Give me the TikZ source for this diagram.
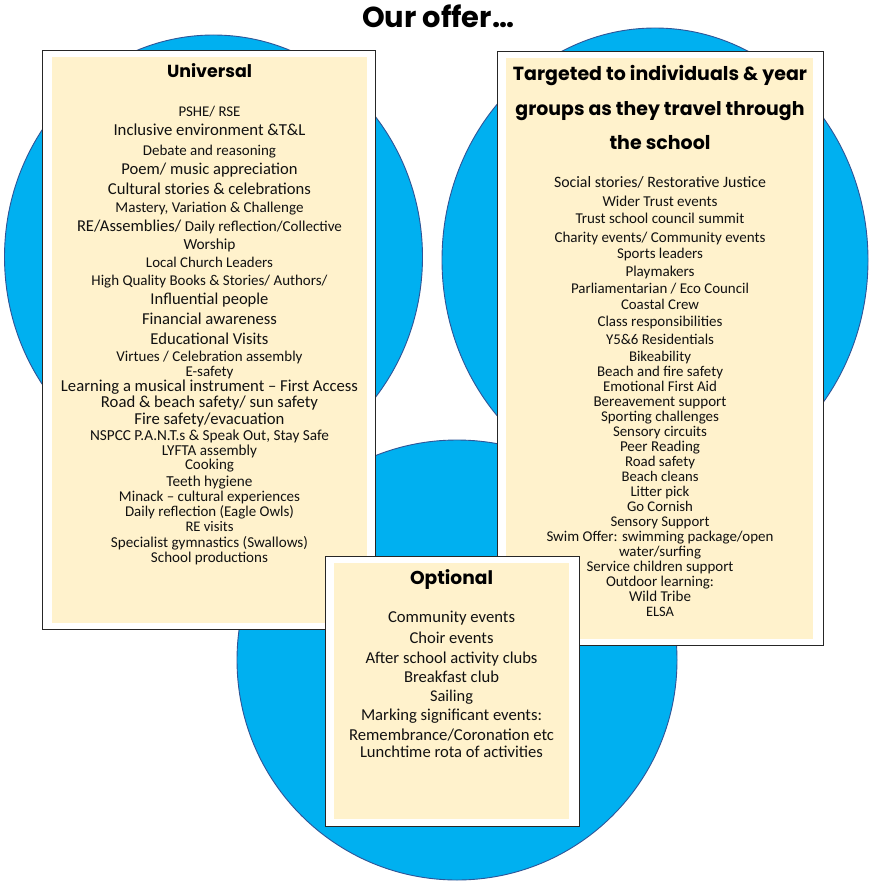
\documentclass[tikz,border=0pt]{standalone}
\usepackage{fontspec}
\usepackage{graphicx}
\setmainfont{Carlito}
\newfontfamily\headfont{Poppins}
\definecolor{circfill}{HTML}{00B0F0}
\definecolor{circline}{HTML}{2F5597}
\definecolor{cream}{HTML}{FFF2CC}
\definecolor{ink}{HTML}{111111}
\newcommand{\fitw}[2]{\resizebox{#1pt}{!}{#2}}
\tikzset{
  bubble/.style={fill=circfill, draw=circline, line width=0.9pt},
  outerbox/.style={fill=white, draw=black!85, line width=0.9pt},
  innerbox/.style={fill=cream, draw=none},
  txt/.style={anchor=base, inner sep=0pt, text=ink},
  head/.style={anchor=base, inner sep=0pt, text=black, font=\headfont\bfseries},
}
\begin{document}
\begin{tikzpicture}[x=1pt,y=-1pt]
\useasboundingbox (0,0) rectangle (876,891);
\fill[white] (0,0) rectangle (876,891);
% circles
\draw[bubble] (213.5,257) ellipse [x radius=209, y radius=222];
\draw[bubble] (655,260) ellipse [x radius=213, y radius=232];
\draw[bubble] (457,660) ellipse [x radius=220, y radius=220];
% title
\node[head] (title) at (438,28) {\fitw{152}{Our offer\ldots}};
% universal box
\draw[outerbox] (42.5,50) rectangle (375,629);
\fill[innerbox] (52,57) rectangle (367,623);
\node[head] (u0) at (209.5,77) {\fitw{85}{Universal}};
\node[txt] (u1) at (209.5,116.5) {\fitw{62}{PSHE/ RSE}};
\node[txt] (u2) at (209.5,135.5) {\fitw{192}{Inclusive environment \&T\&L}};
\node[txt] (u3) at (209.5,155.5) {\fitw{133}{Debate and reasoning}};
\node[txt] (u4) at (209.5,174.5) {\fitw{176}{Poem/ music appreciation}};
\node[txt] (u5) at (209.5,194.5) {\fitw{203}{Cultural stories \& celebrations}};
\node[txt] (u6) at (209.5,212.5) {\fitw{188}{Mastery, Variation \& Challenge}};
\node[txt] (u7) at (209.5,231.5) {\fitw{265}{\scalebox{1.1}{RE/Assemblies/} Daily reflection/Collective}};
\node[txt] (u8) at (209.5,249.5) {\fitw{52}{Worship}};
\node[txt] (u9) at (209.5,267.5) {\fitw{127}{Local Church Leaders}};
\node[txt] (u10) at (209.5,285.5) {\fitw{236}{High Quality Books \& Stories/ Authors/}};
\node[txt] (u11) at (209.5,304.5) {\fitw{118}{Influential people}};
\node[txt] (u12) at (209.5,324.5) {\fitw{135}{Financial awareness}};
\node[txt] (u13) at (209.5,344.5) {\fitw{118}{Educational Visits}};
\node[txt] (u14) at (209.5,361.5) {\fitw{186}{Virtues / Celebration assembly}};
\node[txt] (u15) at (209.5,376.5) {\fitw{48}{E-safety}};
\node[txt] (u16) at (209.5,391.5) {\fitw{297}{Learning a musical instrument – First Access}};
\node[txt] (u17) at (209.5,407.5) {\fitw{217}{Road \& beach safety/ sun safety}};
\node[txt] (u18) at (209.5,424.5) {\fitw{150}{Fire safety/evacuation}};
\node[txt] (u19) at (209.5,440.5) {\fitw{239}{NSPCC P.A.N.T.s \& Speak Out, Stay Safe}};
\node[txt] (u20) at (209.5,455.5) {\fitw{95}{LYFTA assembly}};
\node[txt] (u21) at (209.5,469.5) {\fitw{49}{Cooking}};
\node[txt] (u22) at (209.5,486.5) {\fitw{86}{Teeth hygiene}};
\node[txt] (u23) at (209.5,501.5) {\fitw{181}{Minack – cultural experiences}};
\node[txt] (u24) at (209.5,516.5) {\fitw{169}{Daily reflection (Eagle Owls)}};
\node[txt] (u25) at (209.5,531.5) {\fitw{48}{RE visits}};
\node[txt] (u26) at (209.5,547.5) {\fitw{197}{Specialist gymnastics (Swallows)}};
\node[txt] (u27) at (209.5,562.5) {\fitw{117}{School productions}};
% targeted box
\draw[outerbox] (497,51) rectangle (823,645);
\fill[innerbox] (506,58) rectangle (813,639);
\node[head] (t0a) at (660,80) {\fitw{294}{Targeted to individuals \& year}};
\node[head] (t0b) at (660,115) {\fitw{289}{groups as they travel through}};
\node[head] (t0c) at (660,149) {\fitw{101}{the school}};
\node[txt] (t1) at (660,187.5) {\fitw{212}{Social stories/ Restorative Justice}};
\node[txt] (t2) at (660,206.5) {\fitw{115}{Wider Trust events}};
\node[txt] (t3) at (660,223.5) {\fitw{169}{Trust school council summit}};
\node[txt] (t4) at (660,242.5) {\fitw{211}{Charity events/ Community events}};
\node[txt] (t5) at (660,258.5) {\fitw{86}{Sports leaders}};
\node[txt] (t6) at (660,276.5) {\fitw{69}{Playmakers}};
\node[txt] (t7) at (660,293.5) {\fitw{178}{Parliamentarian / Eco Council}};
\node[txt] (t8) at (660,309.5) {\fitw{78}{Coastal Crew}};
\node[txt] (t9) at (660,326.5) {\fitw{125}{Class responsibilities}};
\node[txt] (t10) at (660,344.5) {\fitw{108}{Y5\&6 Residentials}};
\node[txt] (t11) at (660,361.5) {\fitw{62}{Bikeability}};
\node[txt] (t12) at (660,376.5) {\fitw{126}{Beach and fire safety}};
\node[txt] (t13) at (660,391.5) {\fitw{114}{Emotional First Aid}};
\node[txt] (t14) at (660,406.5) {\fitw{133}{Bereavement support}};
\node[txt] (t15) at (660,421.5) {\fitw{118}{Sporting challenges}};
\node[txt] (t16) at (660,436.5) {\fitw{94}{Sensory circuits}};
\node[txt] (t17) at (660,451.5) {\fitw{80}{Peer Reading}};
\node[txt] (t18) at (660,466.5) {\fitw{70}{Road safety}};
\node[txt] (t19) at (660,481.5) {\fitw{77}{Beach cleans}};
\node[txt] (t20) at (660,496.5) {\fitw{59}{Litter pick}};
\node[txt] (t21) at (660,511.5) {\fitw{66}{Go Cornish}};
\node[txt] (t22) at (660,526.5) {\fitw{99}{Sensory Support}};
\node[txt] (t23) at (660,541.5) {\fitw{227}{Swim Offer: swimming package/open}};
\node[txt] (t24) at (660,556.5) {\fitw{82}{water/surfing}};
\node[txt] (t25) at (660,571.5) {\fitw{147}{Service children support}};
\node[txt] (t26) at (660,586.5) {\fitw{108}{Outdoor learning:}};
\node[txt] (t27) at (660,601.5) {\fitw{62}{Wild Tribe}};
\node[txt] (t28) at (660,616.5) {\fitw{28}{ELSA}};
% optional box
\draw[outerbox] (325,556) rectangle (579,826);
\fill[innerbox] (334,563) rectangle (569,819);
\node[head] (o0) at (451.5,584) {\fitw{83}{Optional}};
\node[txt] (o1) at (451.5,622.5) {\fitw{127}{Community events}};
\node[txt] (o2) at (451.5,643.5) {\fitw{84}{Choir events}};
\node[txt] (o3) at (451.5,663.5) {\fitw{172}{After school activity clubs}};
\node[txt] (o4) at (451.5,682.5) {\fitw{95}{Breakfast club}};
\node[txt] (o5) at (451.5,701.5) {\fitw{43}{Sailing}};
\node[txt] (o6) at (451.5,720.5) {\fitw{181}{Marking significant events:}};
\node[txt] (o7) at (451.5,740.5) {\fitw{205}{Remembrance/Coronation etc}};
\node[txt] (o8) at (451.5,757.5) {\fitw{183}{Lunchtime rota of activities}};
\end{tikzpicture}
\end{document}
